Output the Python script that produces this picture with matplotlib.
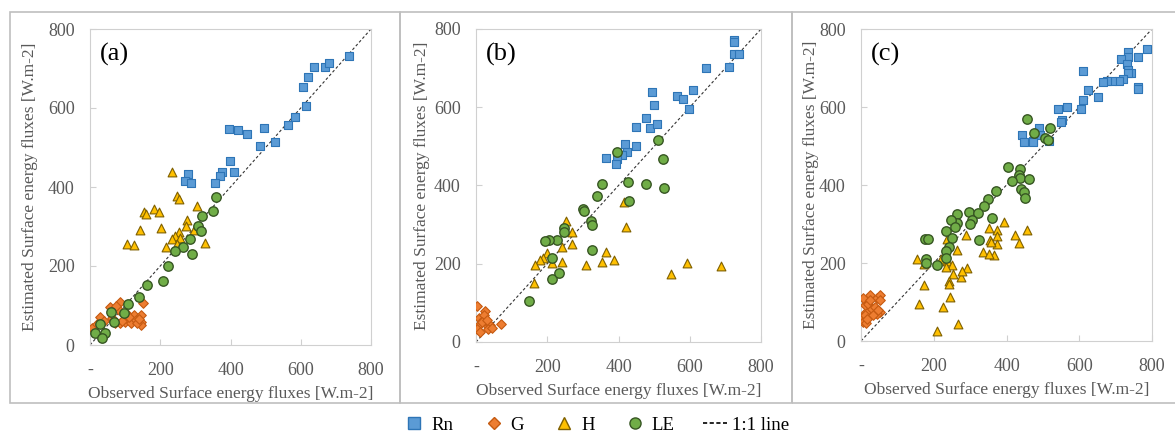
import numpy as np
import matplotlib
matplotlib.use("Agg")
import matplotlib.pyplot as plt
from matplotlib.patches import Rectangle
from matplotlib.lines import Line2D

plt.rcParams['font.family'] = ['Liberation Serif', 'DejaVu Serif']

# ---- panel (a) ----
a_rn_x = [737, 638, 669, 680, 620, 605, 615, 584, 563, 526, 483, 496, 397, 421, 447, 399, 411, 375, 371, 356, 278, 270, 287]
a_rn_y = [731, 703, 703, 714, 678, 653, 606, 577, 557, 514, 503, 550, 547, 544, 534, 465, 437, 437, 429, 410, 432, 416, 410]
a_g_x = [6, 28, 56, 85, 86, 99, 118, 125, 131, 146, 150, 146, 146, 64, 102, 133, 70, 82, 40, 20, 112, 140, 92, 75]
a_g_y = [42, 72, 95, 109, 55, 58, 55, 77, 63, 75, 107, 58, 50, 68, 80, 55, 55, 89, 60, 52, 70, 65, 62, 100]
a_h_x = [234, 247, 254, 183, 196, 153, 159, 104, 126, 142, 203, 304, 277, 274, 296, 254, 242, 233, 256, 216, 247, 326]
a_h_y = [437, 378, 370, 345, 336, 336, 331, 255, 252, 291, 297, 353, 317, 302, 290, 287, 275, 268, 272, 249, 256, 258]
a_le_x = [358, 349, 319, 308, 317, 286, 264, 241, 290, 223, 208, 162, 139, 107, 96, 60, 67, 28, 13, 42, 34]
a_le_y = [374, 339, 327, 302, 288, 269, 249, 238, 231, 200, 161, 151, 122, 103, 80, 84, 58, 53, 31, 31, 17]

# ---- panel (b) ----
b_rn_x = [724, 724, 724, 738, 711, 645, 610, 565, 582, 598, 495, 501, 476, 488, 507, 449, 449, 425, 418, 409, 395, 393, 364]
b_rn_y = [773, 768, 737, 735, 703, 701, 645, 630, 621, 596, 638, 606, 572, 546, 557, 549, 500, 485, 507, 478, 468, 454, 471]
b_g_x = [4, 25, 9, 20, 6, 4, 30, 39, 70, 34, 11, 23, 16, 30, 44]
b_g_y = [91, 78, 61, 57, 42, 32, 44, 44, 47, 32, 26, 69, 50, 57, 36]
b_h_x = [252, 269, 270, 241, 240, 213, 198, 188, 180, 167, 162, 308, 354, 365, 387, 415, 421, 547, 592, 688]
b_h_y = [308, 281, 250, 244, 204, 202, 228, 215, 209, 196, 150, 196, 204, 231, 210, 358, 294, 174, 203, 193]
b_le_x = [512, 526, 529, 476, 427, 430, 395, 354, 339, 299, 303, 323, 325, 326, 246, 247, 228, 204, 194, 213, 212, 232, 150]
b_le_y = [517, 468, 393, 405, 409, 361, 485, 403, 374, 339, 334, 308, 299, 236, 292, 281, 260, 260, 258, 214, 161, 176, 105]

# ---- panel (c) ----
c_rn_x = [786, 733, 733, 762, 715, 731, 735, 743, 733, 719, 709, 690, 676, 665, 761, 761, 610, 624, 652, 610, 604, 565,
          542, 552, 551, 518, 490, 492, 474, 473, 443, 449]
c_rn_y = [749, 742, 727, 727, 723, 710, 696, 688, 688, 673, 667, 667, 667, 665, 651, 646, 693, 644, 625, 618, 594, 600,
          594, 567, 562, 514, 545, 528, 514, 509, 527, 510]
c_g_x = [2, 15, 25, 43, 52, 11, 20, 29, 38, 52, 43, 6, 15, 11, 34, 48, 5, 52, 25, 17]
c_g_y = [62, 75, 117, 110, 117, 92, 96, 83, 87, 75, 70, 49, 45, 66, 66, 79, 109, 106, 104, 57]
c_h_x = [455, 394, 422, 433, 373, 373, 374, 351, 356, 357, 365, 336, 352, 290, 264, 236, 236, 251, 233, 252, 275, 292,
         279, 243, 243, 246, 226, 153, 174, 173, 160, 210, 266, 219]
c_h_y = [284, 305, 273, 252, 284, 269, 250, 291, 258, 253, 220, 228, 223, 271, 233, 261, 206, 196, 190, 171, 163, 188,
         180, 153, 147, 113, 87, 209, 197, 143, 96, 25, 43, 209]
c_le_x = [455, 475, 519, 505, 513, 403, 438, 434, 437, 416, 462, 441, 449, 450, 372, 350, 337, 297, 321, 265, 304, 300,
          265, 247, 259, 233, 360, 324, 250, 243, 235, 235, 176, 185, 178, 180, 209]
c_le_y = [569, 534, 546, 520, 516, 447, 441, 426, 419, 411, 416, 389, 381, 367, 385, 363, 345, 330, 327, 325, 310, 300,
          302, 310, 292, 283, 316, 259, 265, 241, 230, 213, 262, 262, 211, 199, 194]

panels = [
    ("(a)", a_rn_x, a_rn_y, a_g_x, a_g_y, a_h_x, a_h_y, a_le_x, a_le_y),
    ("(b)", b_rn_x, b_rn_y, b_g_x, b_g_y, b_h_x, b_h_y, b_le_x, b_le_y),
    ("(c)", c_rn_x, c_rn_y, c_g_x, c_g_y, c_h_x, c_h_y, c_le_x, c_le_y),
]

W, H = 1175, 432
fig = plt.figure(figsize=(W / 100, H / 100), dpi=100)

# panel frames (px)
boxes = [(10, 12, 400, 403), (400, 12, 792, 403), (792, 12, 1180, 403)]
for x0, y0, x1, y1 in boxes:
    fig.patches.append(Rectangle((x0 / W, 1 - y1 / H), (x1 - x0) / W, (y1 - y0) / H,
                                 transform=fig.transFigure, fill=False, ec='#bfbfbf', lw=1.2))

# axes positions (px: left, right, top, bottom) and y-label x offsets
ax_px = [(90, 371, 29, 345), (476, 761, 29, 342), (861, 1152, 29, 341)]
ylab_x = [-0.185, -0.161, -0.144]

styles = {
    'Rn': dict(marker='s', c='#5b9bd5', edgecolors='#2e75b6', s=36),
    'G': dict(marker='D', c='#ed7d31', edgecolors='#c55a11', s=24),
    'H': dict(marker='^', c='#ffc000', edgecolors='#7f6000', s=40),
    'LE': dict(marker='o', c='#70ad47', edgecolors='#375623', s=46),
}

grey = '#595959'
for (lab, rx, ry, gx, gy, hx, hy, lx, ly), (l, r, t, b), yl in zip(panels, ax_px, ylab_x):
    ax = fig.add_axes([l / W, 1 - b / H, (r - l) / W, (b - t) / H])
    ax.plot([0, 800], [0, 800], ls=(0, (2.5, 2)), color='#333333', lw=0.8, zorder=1)
    ax.scatter(rx, ry, linewidths=0.8, zorder=3, **styles['Rn'])
    ax.scatter(gx, gy, linewidths=0.8, zorder=3, **styles['G'])
    ax.scatter(hx, hy, linewidths=0.8, zorder=3, **styles['H'])
    ax.scatter(lx, ly, linewidths=1.0, zorder=3, **styles['LE'])
    ax.set_xlim(0, 800)
    ax.set_ylim(0, 800)
    ax.set_xticks([0, 200, 400, 600, 800])
    ax.set_xticklabels(['-', '200', '400', '600', '800'])
    ax.set_yticks([0, 200, 400, 600, 800])
    for sp in ax.spines.values():
        sp.set_color('#d0d0d0')
    ax.tick_params(axis='both', direction='in', length=4, color='#d0d0d0',
                   labelcolor=grey, labelsize=13)
    ax.tick_params(axis='x', pad=12)
    ax.tick_params(axis='y', pad=11)
    ax.set_xlabel('Observed Surface energy fluxes [W.m-2]', color=grey, fontsize=12.5, labelpad=5)
    ax.set_ylabel('Estimated Surface energy fluxes [W.m-2]', color=grey, fontsize=12.5)
    ax.yaxis.set_label_coords(yl, 0.5)
    ax.text(0.035, 0.955, lab, transform=ax.transAxes, fontsize=19, va='top', ha='left', color='black')

handles = [
    Line2D([], [], ls='none', marker='s', mfc='#5b9bd5', mec='#2e75b6', ms=8),
    Line2D([], [], ls='none', marker='D', mfc='#ed7d31', mec='#c55a11', ms=6),
    Line2D([], [], ls='none', marker='^', mfc='#ffc000', mec='#7f6000', ms=8),
    Line2D([], [], ls='none', marker='o', mfc='#70ad47', mec='#375623', ms=8),
    Line2D([], [], ls=(0, (2.5, 1.5)), color='black', lw=1.2),
]
fig.legend(handles, ['Rn', 'G', 'H', 'LE', '1:1 line'], loc='center', bbox_to_anchor=(0.507, 0.016),
           ncol=5, frameon=False, fontsize=13.5, handlelength=1.3, handletextpad=0.25, columnspacing=1.5,
           borderpad=0.2)

fig.savefig('out.png', dpi=100)
